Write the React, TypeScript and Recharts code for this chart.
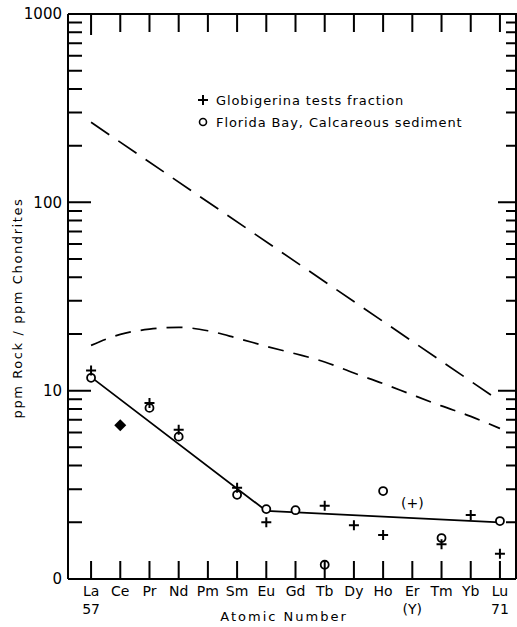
import { ComposedChart, Line, Scatter, XAxis, YAxis, Customized } from 'recharts'

// element symbols along the bottom, keyed by atomic number
const elements = ['La', 'Ce', 'Pr', 'Nd', 'Pm', 'Sm', 'Eu', 'Gd', 'Tb', 'Dy', 'Ho', 'Er', 'Tm', 'Yb', 'Lu']
const atomicNumbers = [57, 58, 59, 60, 61, 62, 63, 64, 65, 66, 67, 68, 69, 70, 71]
const secondRow: Record<number, string> = { 57: '57', 68: '(Y)', 71: '71' }

// + Globigerina tests fraction
const globZ = [57, 59, 60, 62, 63, 65, 66, 67, 69, 70, 71]
const globValues = [12.8, 8.6, 6.2, 3.05, 2.0, 2.45, 1.93, 1.71, 1.53, 2.19, 1.36]

// o Florida Bay, calcareous sediment
const floridaZ = [57, 59, 60, 62, 63, 64, 65, 67, 69, 71]
const floridaValues = [11.7, 8.1, 5.7, 2.8, 2.35, 2.32, 1.19, 2.93, 1.65, 2.03]

// filled diamond (both coincide) at Ce, bracketed (+) at Er
const bothZ = [58]
const bothValues = [6.56]
const bracketZ = [68]
const bracketValues = [2.53]

// solid trend line
const trendZ = [57, 63, 71]
const trendValues = [11.8, 2.3, 2.0]

// dashed reference curves
const upperZ = [57, 71]
const upperValues = [266, 8.8]
const lowerValues = [17.4, 19.9, 21.2, 21.7, 20.8, 19.0, 17.2, 15.7, 14.2, 12.4, 10.9, 9.5, 8.3, 7.3, 6.3]

// log axis: labelled decades plus minor ticks
const yLabelTicks = [1, 10, 100, 1000]
const yAllTicks = [1, 2, 3, 4, 5, 6, 7, 8, 9, 10, 20, 30, 40, 50, 60, 70, 80, 90,
  100, 200, 300, 400, 500, 600, 700, 800, 900, 1000]

const zip = (z: number[], v: number[]) => z.map((zz, i) => ({ z: zz, v: v[i] }))

const globData = zip(globZ, globValues)
const floridaData = zip(floridaZ, floridaValues)
const bothData = zip(bothZ, bothValues)
const bracketData = zip(bracketZ, bracketValues)
const trendData = zip(trendZ, trendValues)
const upperData = zip(upperZ, upperValues)
const lowerData = zip(atomicNumbers, lowerValues)

const FONT = '"DejaVu Sans", sans-serif'
const X_DOMAIN: [number, number] = [56.21, 71.55]
const Y_DOMAIN: [number, number] = [1, 1000]

// plot box (chart 517x627, margins below)
const TOP = 14
const RIGHT = 516
const LEFT = 68

function Cross(p: any) {
  const { cx, cy } = p
  return (
    <path d={`M${cx - 5},${cy}H${cx + 5}M${cx},${cy - 5}V${cy + 5}`} stroke="#000" strokeWidth={2} fill="none" />
  )
}

function Ring(p: any) {
  return <circle cx={p.cx} cy={p.cy} r={4} fill="#fff" stroke="#000" strokeWidth={1.8} />
}

function Diamond(p: any) {
  const { cx, cy } = p
  return <path d={`M${cx},${cy - 6}L${cx + 6},${cy}L${cx},${cy + 6}L${cx - 6},${cy}Z`} fill="#000" />
}

function Bracket(p: any) {
  return (
    <text x={p.cx} y={p.cy + 5} textAnchor="middle" fontFamily={FONT} fontSize={14} fill="#000">(+)</text>
  )
}

// bottom ticks point up into the plot, mirrored along the top edge
function ElementTick({ x, y, payload }: any) {
  const z = payload.value as number
  const sym = elements[atomicNumbers.indexOf(z)]
  const long = z === 57 ? 21 : 18
  return (
    <g>
      <path d={`M${x},${y}V${y - 18}M${x},${TOP}V${TOP + long}`} stroke="#000" strokeWidth={2} />
      <text textAnchor="middle" fontFamily={FONT} fontSize={14} fill="#000">
        <tspan x={x} y={y + 17}>{sym}</tspan>
        {secondRow[z] && <tspan x={x} y={y + 35}>{secondRow[z]}</tspan>}
      </text>
    </g>
  )
}

// left ticks point right into the plot, right-side ticks point left
function LogTick({ x, y, payload }: any) {
  const v = payload.value as number
  const major = v === 10 || v === 100 || v === 1000
  const edge = v === 1
  const label = yLabelTicks.includes(v) ? (v === 1 ? '0' : String(v)) : null
  return (
    <g>
      {!edge && (
        <path
          d={`M${x},${y}H${x + (major ? 23 : 14)}` + (v < 1000 ? `M${RIGHT},${y}H${RIGHT - (major ? 18 : 10)}` : '')}
          stroke="#000"
          strokeWidth={2}
        />
      )}
      {label && (
        <text x={x - 6} y={y} dy="0.36em" textAnchor="end" fontFamily={FONT} fontSize={15} fill="#000">{label}</text>
      )}
    </g>
  )
}

function Texts() {
  return (
    <g fontFamily={FONT} fill="#000">
      <path d={`M${LEFT},${TOP}H${RIGHT}V579`} stroke="#000" strokeWidth={2} fill="none" />
      <text x={22} y={308} fontSize={13} letterSpacing={1.6} textAnchor="middle" transform="rotate(-90 22 308)">
        ppm Rock / ppm Chondrites
      </text>
      <text x={284} y={621} fontSize={13} letterSpacing={2} textAnchor="middle">Atomic  Number</text>
      <path d="M198,100H208M203,95V105" stroke="#000" strokeWidth={2} />
      <text x={216} y={105} fontSize={13} letterSpacing={0.9}>Globigerina tests fraction</text>
      <circle cx={203} cy={122} r={3.5} fill="#fff" stroke="#000" strokeWidth={1.6} />
      <text x={216} y={127} fontSize={13} letterSpacing={0.9}>Florida Bay, Calcareous sediment</text>
    </g>
  )
}

export default function App() {
  const axisStroke = { stroke: '#000', strokeWidth: 2 }
  return (
    <div style={{ position: 'absolute', left: 0, top: 0, background: '#fff' }}>
      <ComposedChart width={517} height={627} data={lowerData} margin={{ top: TOP, right: 517 - RIGHT, bottom: 0, left: 0 }}>
        <XAxis
          dataKey="z"
          type="number"
          domain={X_DOMAIN}
          allowDataOverflow
          ticks={atomicNumbers}
          interval={0}
          height={48}
          tickLine={false}
          tickSize={0}
          tickMargin={0}
          axisLine={axisStroke}
          tick={<ElementTick />}
        />
        <YAxis
          scale="log"
          domain={Y_DOMAIN}
          allowDataOverflow
          ticks={yAllTicks}
          interval={0}
          width={LEFT}
          tickLine={false}
          tickSize={0}
          tickMargin={0}
          axisLine={axisStroke}
          tick={<LogTick />}
        />

        <Line data={upperData} dataKey="v" type="linear" stroke="#000" strokeWidth={1.7}
          strokeDasharray="22 11" dot={false} isAnimationActive={false} />
        <Line dataKey="v" type="monotone" stroke="#000" strokeWidth={1.7}
          strokeDasharray="16 10" dot={false} isAnimationActive={false} />
        <Line data={trendData} dataKey="v" type="linear" stroke="#000" strokeWidth={1.8}
          dot={false} isAnimationActive={false} />

        <Scatter data={floridaData} dataKey="v" shape={<Ring />} isAnimationActive={false} />
        <Scatter data={globData} dataKey="v" shape={<Cross />} isAnimationActive={false} />
        <Scatter data={bothData} dataKey="v" shape={<Diamond />} isAnimationActive={false} />
        <Scatter data={bracketData} dataKey="v" shape={<Bracket />} isAnimationActive={false} />

        <Customized component={<Texts />} />
      </ComposedChart>
    </div>
  )
}
